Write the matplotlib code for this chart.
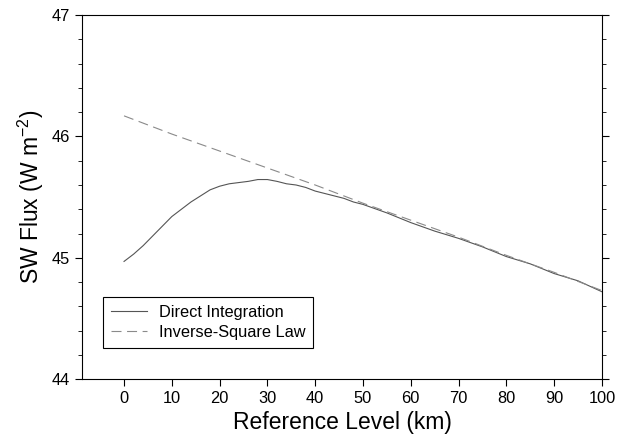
import matplotlib
matplotlib.use("Agg")
import matplotlib.pyplot as plt
from matplotlib.ticker import MultipleLocator

plt.rcParams['font.family'] = ['Liberation Sans', 'DejaVu Sans']
plt.rcParams['mathtext.fontset'] = 'custom'
plt.rcParams['mathtext.rm'] = 'Liberation Sans'
plt.rcParams['mathtext.it'] = 'Liberation Sans'
plt.rcParams['mathtext.default'] = 'regular'

# Data
level_direct = [0, 2, 4, 6, 8, 10, 12, 14, 16, 18, 20, 22, 24, 26, 28, 30, 32, 34, 36,
                38, 40, 42, 44, 46, 48, 50, 55, 60, 65, 70, 75, 80, 85, 90, 95, 100]
flux_direct = [44.97, 45.03, 45.10, 45.18, 45.26, 45.34, 45.40, 45.46, 45.51, 45.56,
               45.59, 45.61, 45.62, 45.63, 45.645, 45.645, 45.63, 45.61, 45.60, 45.58,
               45.55, 45.53, 45.51, 45.49, 45.46, 45.44, 45.37, 45.29, 45.22, 45.16,
               45.09, 45.01, 44.95, 44.87, 44.81, 44.72]

level_inv = [0, 10, 20, 30, 40, 50, 60, 70, 80, 90, 100]
flux_inv = [46.17, 46.02, 45.88, 45.74, 45.60, 45.45, 45.31, 45.17, 45.02, 44.88, 44.73]

xticks = [0, 10, 20, 30, 40, 50, 60, 70, 80, 90, 100]
yticks = [44, 45, 46, 47]

fig = plt.figure(figsize=(6.22, 4.46), dpi=100)
ax = fig.add_axes([0.1318, 0.150, 0.836, 0.816])

ax.plot(level_direct, flux_direct, color='#555555', lw=0.8, label='Direct Integration')
ax.plot(level_inv, flux_inv, color='#8a8a8a', lw=0.8, dashes=(9, 5), label='Inverse-Square Law')

ax.set_xlim(-8.8, 100)
ax.set_ylim(44, 47)
ax.set_xticks(xticks)
ax.set_yticks(yticks)
ax.yaxis.set_minor_locator(MultipleLocator(0.2))
ax.tick_params(axis='both', which='major', labelsize=11.8, direction='out', length=5, width=0.8)
ax.tick_params(axis='y', which='minor', direction='out', length=3, width=0.6)
ax.tick_params(axis='y', which='both', right=True)
ax.tick_params(axis='x', which='both', top=False)

ax.set_xlabel('Reference Level (km)', fontsize=16.5)
ax.set_ylabel('SW Flux (W m$^{-2}$)', fontsize=16.5)

leg = ax.legend(loc='lower left', bbox_to_anchor=(0.04, 0.085), borderaxespad=0,
                fontsize=11.8, frameon=True, fancybox=False, edgecolor='black',
                framealpha=1, handlelength=2.2, handletextpad=0.7,
                borderpad=0.5, labelspacing=0.3)
leg.get_frame().set_linewidth(0.8)

fig.savefig('out.png', dpi=100)
